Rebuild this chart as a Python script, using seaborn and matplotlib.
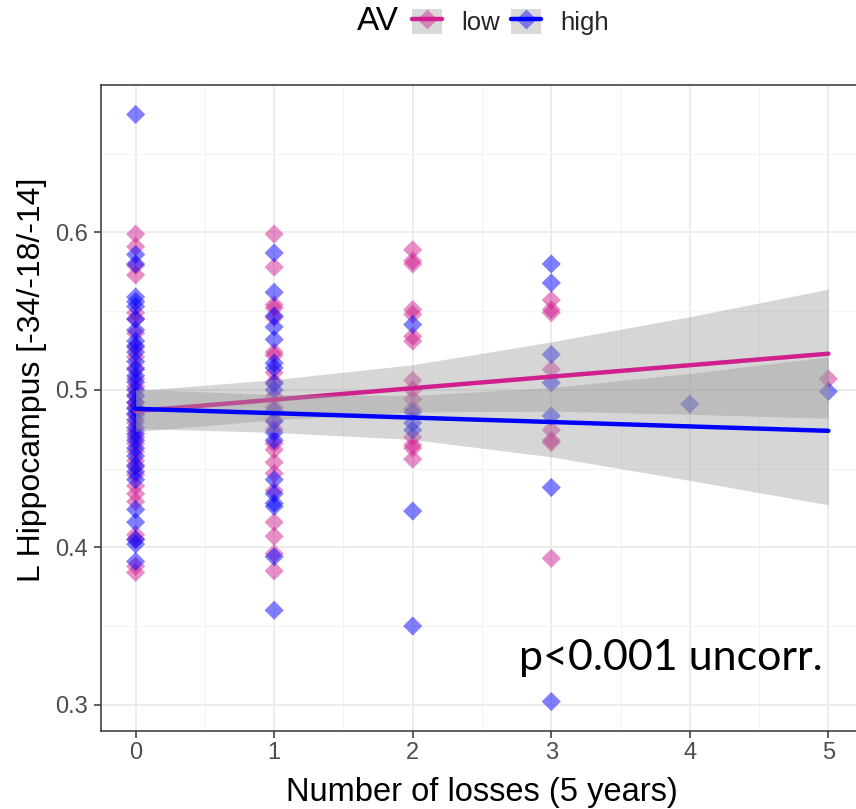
import matplotlib
matplotlib.use("Agg")
import matplotlib.pyplot as plt
import seaborn as sns
import pandas as pd
from matplotlib.patches import Patch
from matplotlib.lines import Line2D
from matplotlib.legend_handler import HandlerTuple

# ---------------- data ----------------
groups = ["low", "high"]
colors = {"low": "#D02090", "high": "#0000FF"}

low_x0 = [0.599, 0.591, 0.579, 0.573, 0.549, 0.545, 0.536, 0.527, 0.521, 0.514, 0.507,
          0.502, 0.497, 0.492, 0.489, 0.484, 0.479, 0.474, 0.470, 0.466, 0.461, 0.455,
          0.451, 0.446, 0.439, 0.434, 0.429, 0.408, 0.405, 0.388, 0.384]
low_x1 = [0.599, 0.578, 0.554, 0.552, 0.546, 0.524, 0.522, 0.511, 0.505, 0.496, 0.489,
          0.481, 0.475, 0.466, 0.462, 0.454, 0.447, 0.436, 0.416, 0.407, 0.396, 0.385]
low_x2 = [0.589, 0.582, 0.580, 0.551, 0.548, 0.534, 0.531, 0.506, 0.500, 0.494, 0.488,
          0.470, 0.465, 0.463, 0.456]
low_x3 = [0.557, 0.551, 0.549, 0.513, 0.4745, 0.468, 0.4665, 0.393]
low_x5 = [0.507]

high_x0 = [0.675, 0.586, 0.580, 0.559, 0.556, 0.553, 0.545, 0.538, 0.531, 0.528, 0.524,
           0.518, 0.513, 0.509, 0.505, 0.500, 0.496, 0.492, 0.488, 0.485, 0.481, 0.476,
           0.472, 0.468, 0.463, 0.458, 0.452, 0.448, 0.443, 0.424, 0.416, 0.405, 0.402, 0.391]
high_x1 = [0.587, 0.562, 0.547, 0.540, 0.532, 0.517, 0.514, 0.504, 0.500, 0.487, 0.480,
           0.473, 0.468, 0.443, 0.434, 0.428, 0.426, 0.394, 0.360]
high_x2 = [0.5415, 0.486, 0.479, 0.4745, 0.423, 0.350]
high_x3 = [0.580, 0.568, 0.5225, 0.5045, 0.4835, 0.438, 0.302]
high_x4 = [0.491]
high_x5 = [0.499]

# fitted lines and confidence bands
fit_x = [0, 1, 2, 3, 4, 5]
low_fit = [0.4865, 0.4938, 0.5011, 0.5084, 0.5157, 0.523]
low_lo = [0.4735, 0.481, 0.486, 0.4865, 0.4845, 0.482]
low_hi = [0.4995, 0.5065, 0.516, 0.5305, 0.5465, 0.564]
high_fit = [0.488, 0.4852, 0.4824, 0.4796, 0.4768, 0.474]
high_lo = [0.4755, 0.473, 0.4685, 0.4575, 0.4425, 0.427]
high_hi = [0.5005, 0.497, 0.4965, 0.5015, 0.5105, 0.521]

x_ticks = [0, 1, 2, 3, 4, 5]
y_ticks = [0.3, 0.4, 0.5, 0.6]
x_label = "Number of losses (5 years)"
y_label = "L Hippocampus [-34/-18/-14]"
annot = "p<0.001 uncorr."

# ---------------- build tables ----------------
rows = []
for av, series in [("low", {0: low_x0, 1: low_x1, 2: low_x2, 3: low_x3, 5: low_x5}),
                   ("high", {0: high_x0, 1: high_x1, 2: high_x2, 3: high_x3, 4: high_x4, 5: high_x5})]:
    for xv, vals in series.items():
        for v in vals:
            rows.append({"losses": xv, "val": v, "AV": av})
df = pd.DataFrame(rows)

fits = {
    "low": pd.DataFrame({"x": fit_x, "fit": low_fit, "lo": low_lo, "hi": low_hi}),
    "high": pd.DataFrame({"x": fit_x, "fit": high_fit, "lo": high_lo, "hi": high_hi}),
}

# ---------------- plot ----------------
sns.set_theme(style="white")
plt.rcParams["font.family"] = ["Liberation Sans", "DejaVu Sans"]

W, H = 856, 809
fig = plt.figure(figsize=(W / 100, H / 100), dpi=100)
ax = fig.add_axes([101 / W, 78 / H, (863 - 101) / W, (731 - 85) / H])

sns.scatterplot(data=df, x="losses", y="val", hue="AV", hue_order=groups,
                palette=colors, marker="D", s=95, alpha=0.5, linewidth=0,
                legend=False, ax=ax, zorder=2)

z = 3
for g in groups:
    f = fits[g]
    ax.fill_between(f["x"], f["lo"], f["hi"], color="#999999", alpha=0.4,
                    linewidth=0, zorder=z)
    sns.lineplot(data=f, x="x", y="fit", color=colors[g], linewidth=3.2,
                 ax=ax, zorder=z + 1)
    z += 2

ax.set_xlim(-0.25, 5.25)
ax.set_ylim(0.2833, 0.6937)
ax.set_xticks(x_ticks)
ax.set_yticks(y_ticks)
ax.set_xticklabels([str(t) for t in x_ticks])
ax.set_yticklabels([f"{t:.1f}" for t in y_ticks])
ax.set_xticks([0.5, 1.5, 2.5, 3.5, 4.5], minor=True)
ax.set_yticks([0.35, 0.45, 0.55, 0.65], minor=True)
ax.grid(which="major", color="#EBEBEB", linewidth=1.3)
ax.grid(which="minor", color="#F3F3F3", linewidth=0.8)
ax.set_axisbelow(True)

for s in ax.spines.values():
    s.set_color("#333333")
    s.set_linewidth(1.1)
ax.tick_params(axis="both", which="major", length=5, width=1.1, color="#333333",
               labelcolor="#4D4D4D", labelsize=17, bottom=True, left=True)
ax.tick_params(axis="x", which="major", pad=3)
ax.tick_params(axis="y", which="major", pad=4.5)
ax.tick_params(which="minor", length=0)

ax.set_xlabel(x_label, fontsize=23.5, color="black", labelpad=9)
ax.set_ylabel(y_label, fontsize=23, color="black")
ax.yaxis.set_label_coords((47 - 101) / 762, (731 - 380) / 646)

fig.text(823 / W, 1 - 670 / H, annot, ha="right", va="baseline", fontsize=31,
         family=["Lato", "DejaVu Sans"], color="black")

# legend on top
fig.text(357 / W, 1 - 22 / H, "AV", ha="left", va="center", fontsize=24, color="black")
handles = []
for g in groups:
    rgb = matplotlib.colors.to_rgb(colors[g])
    box = Patch(facecolor="#D9D9D9", edgecolor="none")
    ln = Line2D([], [], color=colors[g], linewidth=3.2, marker="D", markersize=10,
                markerfacecolor=(*rgb, 0.45), markeredgecolor="none")
    handles.append((box, ln))
fig.legend(handles=handles, labels=groups, handler_map={tuple: HandlerTuple(ndivide=1, pad=0)},
           ncol=2, loc="center left", bbox_to_anchor=(412 / W, 1 - 22 / H), frameon=False,
           fontsize=18.5, handlelength=1.15, handleheight=1.15, handletextpad=0.75,
           columnspacing=0.45, borderaxespad=0, borderpad=0)

fig.savefig("out.png", dpi=100)
